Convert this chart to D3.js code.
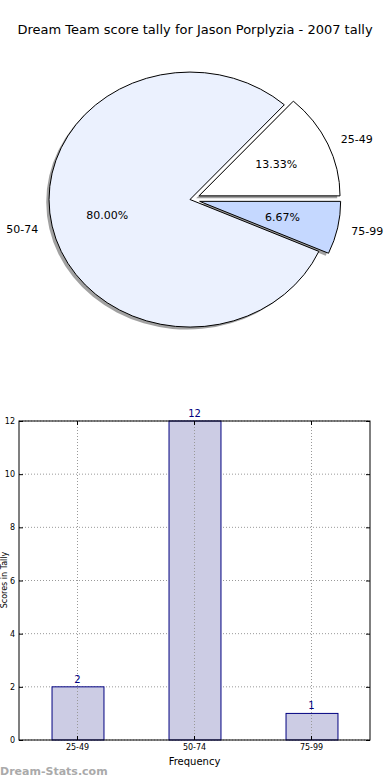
<!DOCTYPE html>
<html><head><meta charset="utf-8">
<script src="https://cdn.jsdelivr.net/npm/d3@7"></script>
<style>body{margin:0;background:#fff;}svg{display:block;font-family:"DejaVu Sans",sans-serif;}</style>
</head><body>
<svg id="c" width="390" height="780"></svg>
<script>
const title = "Dream Team score tally for Jason Porplyzia - 2007 tally";
const categories = ["25-49", "50-74", "75-99"];
const counts = [2, 12, 1];
const pieColors = ["#ffffff", "#ebf1fe", "#c5d8ff"];
const explode = [0.07, 0, 0.07];
const yTicks = [0, 2, 4, 6, 8, 10, 12];
const xLabel = "Frequency";
const yLabel = "Scores in Tally";
const watermark = "Dream-Stats.com";

const svg = d3.select("#c");
svg.append("text").attr("x", 195).attr("y", 34).attr("text-anchor", "middle")
  .attr("font-size", 13).attr("fill", "#000").text(title);

// ---- Pie ----
const cx = 190, cy = 199.5, rx = 141, ry = 127.5;
const total = d3.sum(counts);
const pie = d3.pie().sort(null).value(d => d)
  .startAngle(Math.PI / 2).endAngle(Math.PI / 2 - 2 * Math.PI); // counterclockwise from 3 o'clock
const arcs = pie(counts);
const arcGen = d3.arc().innerRadius(0).outerRadius(1);
const pieG = svg.append("g");
function offsetOf(a, i) {
  const mid = (a.startAngle + a.endAngle) / 2;
  return [explode[i] * rx * Math.sin(mid), -explode[i] * ry * Math.cos(mid)];
}
arcs.forEach((a, i) => {
  const [dx, dy] = offsetOf(a, i);
  pieG.append("path").attr("d", arcGen(a))
    .attr("transform", `translate(${cx + dx - 2.8},${cy + dy + 2.5}) scale(${rx},${ry})`)
    .attr("fill", "#444").attr("fill-opacity", 0.5);
});
arcs.forEach((a, i) => {
  const [dx, dy] = offsetOf(a, i);
  pieG.append("path").attr("d", arcGen(a))
    .attr("transform", `translate(${cx + dx},${cy + dy}) scale(${rx},${ry})`)
    .attr("fill", pieColors[i]).attr("stroke", "#000").attr("stroke-width", 1)
    .attr("vector-effect", "non-scaling-stroke");
});
arcs.forEach((a, i) => {
  const [dx, dy] = offsetOf(a, i);
  const mid = (a.startAngle + a.endAngle) / 2;
  const px = cx + dx + 0.6 * rx * Math.sin(mid), py = cy + dy - 0.6 * ry * Math.cos(mid);
  pieG.append("text").attr("x", px).attr("y", py).attr("text-anchor", "middle")
    .attr("dominant-baseline", "central").attr("font-size", 11)
    .text((counts[i] / total * 100).toFixed(2) + "%");
  const lx = cx + dx + 1.1 * rx * Math.sin(mid), ly = cy + dy - 1.1 * ry * Math.cos(mid);
  pieG.append("text").attr("x", lx).attr("y", ly + 1)
    .attr("text-anchor", Math.sin(mid) >= 0 ? "start" : "end")
    .attr("dominant-baseline", "central").attr("font-size", 11)
    .text(categories[i]);
});

// ---- Bar ----
const L = 19, R = 370, T = 421, B = 740;
const x = d3.scaleBand().domain(categories).range([L, R]).paddingInner(0.556).paddingOuter(0.278);
const y = d3.scaleLinear().domain([0, 12]).range([B, T]);
const g = svg.append("g");
g.selectAll(".gy").data(yTicks).enter().append("line")
  .attr("x1", L).attr("x2", R).attr("y1", d => y(d)).attr("y2", d => y(d))
  .attr("stroke", "#999").attr("stroke-dasharray", "1,2").attr("stroke-width", 1);
g.selectAll(".bar").data(counts).enter().append("rect")
  .attr("x", (d, i) => x(categories[i]) + 0.5).attr("width", x.bandwidth())
  .attr("y", d => y(d)).attr("height", d => B - y(d))
  .attr("fill", "#ccccE4").attr("stroke", "#000080").attr("stroke-width", 1);
g.selectAll(".gx").data(categories).enter().append("line")
  .attr("x1", d => x(d) + x.bandwidth() / 2).attr("x2", d => x(d) + x.bandwidth() / 2)
  .attr("y1", T).attr("y2", B)
  .attr("stroke", "#999").attr("stroke-dasharray", "1,2").attr("stroke-width", 1);
g.selectAll(".vl").data(counts).enter().append("text")
  .attr("x", (d, i) => x(categories[i]) + x.bandwidth() / 2).attr("y", d => y(d) - 4)
  .attr("text-anchor", "middle").attr("font-size", 10).attr("fill", "#000080").text(d => d);
g.append("rect").attr("x", L).attr("y", T).attr("width", R - L).attr("height", B - T)
  .attr("fill", "none").attr("stroke", "#000").attr("stroke-width", 1);
const yAxis = d3.axisLeft(y).tickValues(yTicks).tickSize(-4).tickPadding(4).tickFormat(d3.format("d"));
const ya = g.append("g").attr("transform", `translate(${L},0)`).call(yAxis);
ya.select(".domain").remove();
ya.selectAll("text").attr("font-size", 8).attr("font-family", "DejaVu Sans");
const yr = g.append("g").attr("transform", `translate(${R},0)`).call(d3.axisRight(y).tickValues(yTicks).tickSize(-4).tickFormat(""));
yr.select(".domain").remove();
const xAxis = d3.axisBottom(x).tickSize(-4).tickPadding(4);
const xa = g.append("g").attr("transform", `translate(0,${B})`).call(xAxis);
xa.select(".domain").remove();
xa.selectAll("text").attr("font-size", 8).attr("font-family", "DejaVu Sans");
const xt = g.append("g").attr("transform", `translate(0,${T})`).call(d3.axisTop(x).tickSize(-4).tickFormat(""));
xt.select(".domain").remove();
svg.append("text").attr("x", (L + R) / 2).attr("y", 765).attr("text-anchor", "middle")
  .attr("font-size", 10).text(xLabel);
svg.append("text").attr("transform", "translate(7,580) rotate(-90)").attr("text-anchor", "middle")
  .attr("font-size", 8).text(yLabel);
svg.append("text").attr("x", 0).attr("y", 775).attr("font-size", 11).attr("font-weight", "bold")
  .attr("fill", "#aaa").text(watermark);
</script>
</body></html>
